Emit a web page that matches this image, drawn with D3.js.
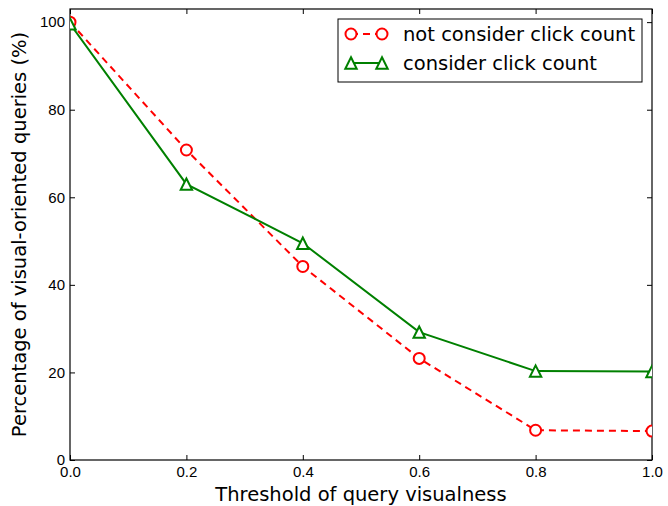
<!DOCTYPE html>
<html>
<head>
<meta charset="utf-8">
<script src="https://d3js.org/d3.v7.min.js"></script>
<style>
  body { margin: 0; background: #fff; }
  svg { font-family: "DejaVu Sans", sans-serif; }
</style>
</head>
<body>
<svg width="668" height="506"></svg>
<script>
const thresholds = [0.0, 0.2, 0.4, 0.6, 0.8, 1.0]
const notConsider = [100, 70.8, 44.2, 23.2, 6.8, 6.6]
const consider = [99.6, 63.0, 49.5, 29.2, 20.3, 20.2]
const xTicks = [0.0, 0.2, 0.4, 0.6, 0.8, 1.0]
const yTicks = [0, 20, 40, 60, 80, 100]

const margin = {top: 9, right: 16, bottom: 46, left: 70},
    width = 668 - margin.left - margin.right,
    height = 506 - margin.top - margin.bottom

const svg = d3.select('svg')
const g = svg.append('g').attr('transform', `translate(${margin.left},${margin.top})`)

const x = d3.scaleLinear().domain([0, 1]).range([0, width])
const y = d3.scaleLinear().domain([0, 103]).range([height, 0])

svg.append('defs').append('clipPath').attr('id', 'clip')
    .append('rect').attr('width', width).attr('height', height)

// ticks on all four sides, pointing inward
const tickLen = 5
g.append('g').attr('transform', `translate(0,${height})`)
    .call(d3.axisBottom(x).tickValues(xTicks).tickFormat(d3.format('.1f')).tickSizeInner(-tickLen).tickSizeOuter(0).tickPadding(6))
g.append('g')
    .call(d3.axisTop(x).tickValues(xTicks).tickFormat('').tickSizeInner(-tickLen).tickSizeOuter(0))
g.append('g')
    .call(d3.axisLeft(y).tickValues(yTicks).tickSizeInner(-tickLen).tickSizeOuter(0).tickPadding(5))
g.append('g').attr('transform', `translate(${width},0)`)
    .call(d3.axisRight(y).tickValues(yTicks).tickFormat('').tickSizeInner(-tickLen).tickSizeOuter(0))

g.selectAll('.domain').remove()
g.selectAll('.tick line').attr('stroke', '#000').attr('stroke-width', 1)
g.selectAll('.tick text').style('font-size', '15px').attr('fill', '#000')

g.append('rect').attr('width', width).attr('height', height)
    .attr('fill', 'none').attr('stroke', '#000').attr('stroke-width', 1.2)

const line = d3.line().x((d, i) => x(thresholds[i])).y(d => y(d))
const plot = g.append('g').attr('clip-path', 'url(#clip)')

// matplotlib-style '^' marker: square bbox centred on the point
const triType = {
    draw(ctx, size) {
        const r = Math.sqrt(size) / 2
        ctx.moveTo(0, -r)
        ctx.lineTo(r, r)
        ctx.lineTo(-r, r)
        ctx.closePath()
    }
}
const tri = d3.symbol().type(triType).size(130)

plot.append('path').datum(notConsider)
    .attr('d', line).attr('fill', 'none').attr('stroke', '#ff0000')
    .attr('stroke-width', 2).attr('stroke-dasharray', '7,5')
plot.append('path').datum(consider)
    .attr('d', line).attr('fill', 'none').attr('stroke', '#008000').attr('stroke-width', 2)

plot.selectAll('.circ').data(notConsider).join('circle')
    .attr('class', 'circ')
    .attr('cx', (d, i) => x(thresholds[i])).attr('cy', d => y(d)).attr('r', 5.5)
    .attr('fill', '#fff').attr('stroke', '#ff0000').attr('stroke-width', 2)
plot.selectAll('.tri').data(consider).join('path')
    .attr('class', 'tri')
    .attr('transform', (d, i) => `translate(${x(thresholds[i])},${y(d)})`)
    .attr('d', tri)
    .attr('fill', '#fff').attr('stroke', '#008000').attr('stroke-width', 2)

// axis labels
svg.append('text').attr('x', margin.left + width / 2).attr('y', 501)
    .attr('text-anchor', 'middle').style('font-size', '19.5px')
    .text('Threshold of query visualness')
svg.append('text').attr('transform', `translate(26,${margin.top + height / 2}) rotate(-90)`)
    .attr('text-anchor', 'middle').style('font-size', '19.5px')
    .text('Percentage of visual-oriented queries (%)')

// legend
const legendData = [
    {label: 'not consider click count', color: '#ff0000', dash: '7,5', marker: 'circle'},
    {label: 'consider click count', color: '#008000', dash: null, marker: 'triangle'}
]
const legend = svg.append('g').attr('transform', 'translate(338,19)')
legend.append('rect').attr('width', 304).attr('height', 63)
    .attr('fill', '#fff').attr('stroke', '#000').attr('stroke-width', 1)
const rows = legend.selectAll('.row').data(legendData).join('g')
    .attr('class', 'row')
    .attr('transform', (d, i) => `translate(0,${15 + i * 29})`)
rows.append('line').attr('x1', 13).attr('x2', 44)
    .attr('stroke', d => d.color).attr('stroke-width', 2)
    .attr('stroke-dasharray', d => d.dash)
rows.each(function(d) {
    const r = d3.select(this)
    ;[13, 44].forEach(cx => {
        if (d.marker === 'circle') {
            r.append('circle').attr('cx', cx).attr('r', 5.5)
                .attr('fill', '#fff').attr('stroke', d.color).attr('stroke-width', 2)
        } else {
            r.append('path').attr('transform', `translate(${cx},0)`).attr('d', tri)
                .attr('fill', '#fff').attr('stroke', d.color).attr('stroke-width', 2)
        }
    })
})
rows.append('text').attr('x', 65).attr('dy', '0.35em')
    .style('font-size', '19.5px').text(d => d.label)
</script>
</body>
</html>
